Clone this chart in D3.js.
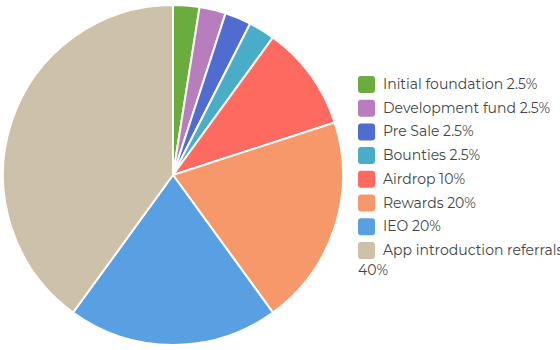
<!DOCTYPE html>
<html><head><meta charset="utf-8">
<script src="https://cdn.jsdelivr.net/npm/d3@7"></script>
<style>body{margin:0;background:#fff;} svg{display:block;}</style>
</head><body>
<svg id="chart" width="560" height="350"></svg>
<script>
const labels = ["Initial foundation","Development fund","Pre Sale","Bounties","Airdrop","Rewards","IEO","App introduction referrals"];
const values = [2.5,2.5,2.5,2.5,10,20,20,40];
const colors = ["#6aad3e","#b77dbc","#4f6dd0","#4aadc8","#ff6a60","#f7986a","#59a0e3","#cec1aa"];

const svg = d3.select("#chart");
const cx = 173, cy = 175, r = 170;
const pie = d3.pie().sort(null).value(d => d)(values);
const arc = d3.arc().innerRadius(0).outerRadius(r);
const g = svg.append("g").attr("transform", `translate(${cx},${cy})`);
g.selectAll("path").data(pie).join("path")
  .attr("d", arc).attr("fill", (d,i) => colors[i])
  .attr("stroke", "#fff").attr("stroke-width", 2).attr("stroke-linejoin","round");

const lg = svg.append("g").attr("font-family","Montserrat, 'Open Sans', sans-serif").attr("font-size",14).attr("fill","#444");
const y0 = 84, dy = 23.7;
labels.forEach((l,i) => {
  const y = y0 + i*dy;
  lg.append("rect").attr("x",358).attr("y",y-8).attr("width",17).attr("height",17).attr("rx",3).attr("fill",colors[i]);
  const t = lg.append("text").attr("x",383).attr("y",y+5);
  if (i === labels.length-1) {
    t.append("tspan").text(l);
    t.append("tspan").attr("x",358).attr("dy",20).text(values[i]+"%");
  } else {
    t.text(l + " " + values[i] + "%");
  }
});
</script>
</body></html>
